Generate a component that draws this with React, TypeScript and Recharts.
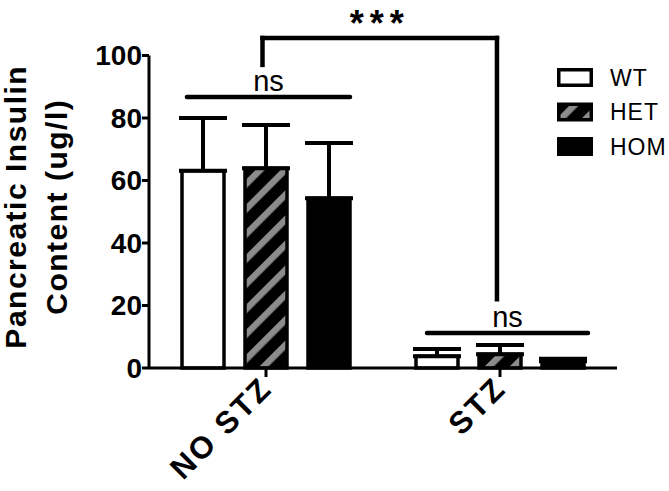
import React from 'react';
import { BarChart, Bar, XAxis, YAxis, ErrorBar, ReferenceLine, Legend } from 'recharts';

const FONT = '"Liberation Sans", Arial, Helvetica, sans-serif';

const categories = ['NO STZ', 'STZ'];
const categoryPos = [0.5, 1.5];
const seriesNames = ['WT', 'HET', 'HOM'];
const wtMeans = [63.1, 3.8];
const wtErrors = [16.9, 2.3];
const hetMeans = [63.9, 4.4];
const hetErrors = [13.9, 3.0];
const homMeans = [54.3, 2.2];
const homErrors = [17.7, 0.8];
const yTicks = [0, 20, 40, 60, 80, 100];

// significance annotations (x on a 0..2 numeric scale spanning both categories)
const nsLineX1 = [0.162, 1.188];
const nsLineX2 = [0.859, 1.876];
const nsLineY = [86.7, 11.2];
const nsLabels = ['ns', 'ns'];
const bracketX = [0.485, 1.487];
const bracketY = [97, 105.6, 22]; // left foot, top, right foot
const bracketLabel = '***';

const data = categories.map((name, i) => ({
  name,
  pos: categoryPos[i],
  wt: wtMeans[i],
  wtErr: [0, wtErrors[i]],
  het: hetMeans[i],
  hetErr: [0, hetErrors[i]],
  hom: homMeans[i],
  homErr: [0, homErrors[i]],
}));

const XTick = (props: any) => {
  const { x, y, payload } = props;
  const ax = x + 8;
  const ay = y + 11;
  return (
    <text
      x={ax}
      y={ay}
      transform={`rotate(-45 ${ax} ${ay})`}
      textAnchor="end"
      fontFamily={FONT}
      fontWeight="bold"
      fontSize={31}
      letterSpacing={2.5}
      fill="#000"
    >
      {payload.value}
    </text>
  );
};

const YLabel = (props: any) => {
  const vb = props.viewBox || { x: 0, y: 55, width: 149, height: 313 };
  const cy = vb.y + vb.height / 2 - 5;
  const x1 = 26;
  const x2 = 67;
  return (
    <g fontFamily={FONT} fontWeight="bold" fontSize={30} fill="#000">
      <text x={x1} y={cy} transform={`rotate(-90 ${x1} ${cy})`} textAnchor="middle" letterSpacing={1.5}>
        Pancreatic Insulin
      </text>
      <text x={x2} y={cy} transform={`rotate(-90 ${x2} ${cy})`} textAnchor="middle" letterSpacing={1.5}>
        Content (ug/l)
      </text>
    </g>
  );
};

const LegendContent = (props: any) => {
  const payload = [...(props.payload || [])].sort(
    (a: any, b: any) => seriesNames.indexOf(a.value) - seriesNames.indexOf(b.value)
  );
  return (
    <svg width={112} height={100} style={{ display: 'block', overflow: 'visible' }}>
      {payload.map((entry: any, i: number) => (
        <g key={entry.value}>
          <rect
            x={1.75}
            y={1.75 + i * 34.5}
            width={32.5}
            height={15.5}
            fill={entry.color}
            stroke="#000"
            strokeWidth={3.5}
          />
          <text x={53} y={17.5 + i * 34.5} fontFamily={FONT} fontSize={23} letterSpacing={1} fill="#000">
            {entry.value}
          </text>
        </g>
      ))}
    </svg>
  );
};

export default function App() {
  return (
    <div style={{ position: 'absolute', left: 0, top: 0, width: 669, height: 491, background: '#fff' }}>
      <BarChart
        width={669}
        height={491}
        data={data}
        margin={{ top: 55.5, right: 52, bottom: 0, left: 0 }}
        barSize={42}
        barGap={21}
      >
        <defs>
          <pattern
            id="hetHatch"
            patternUnits="userSpaceOnUse"
            width={17.7}
            height={17.7}
            patternTransform="rotate(45)"
          >
            <rect x={0} y={0} width={17.7} height={17.7} fill="#000" />
            <rect x={0} y={0} width={6.5} height={17.7} fill="#8c8c8c" />
          </pattern>
        </defs>
        <XAxis
          dataKey="name"
          height={123}
          axisLine={{ stroke: '#000', strokeWidth: 3 }}
          tickLine={{ stroke: '#000', strokeWidth: 3 }}
          tickSize={9}
          tickMargin={2}
          tick={<XTick />}
          interval={0}
        />
        <XAxis
          xAxisId="ann"
          dataKey="pos"
          type="number"
          domain={[0, 2]}
          allowDataOverflow
          hide
        />
        <YAxis
          width={149}
          domain={[0, 100]}
          ticks={yTicks}
          interval={0}
          axisLine={{ stroke: '#000', strokeWidth: 3 }}
          tickLine={{ stroke: '#000', strokeWidth: 3 }}
          tickSize={7}
          tickMargin={0}
          tick={{ fill: '#000', fontSize: 28, fontWeight: 'bold', fontFamily: FONT }}
          label={<YLabel />}
        />
        <Legend
          layout="vertical"
          align="center"
          verticalAlign="middle"
          content={<LegendContent />}
          wrapperStyle={{ left: 557, top: 68, width: 112, height: 100, right: 'auto', bottom: 'auto' }}
        />
        <Bar dataKey="wt" name="WT" fill="#fff" stroke="#000" strokeWidth={3.5} isAnimationActive={false}>
          <ErrorBar dataKey="wtErr" width={24} stroke="#000" strokeWidth={4} direction="y" />
        </Bar>
        <Bar dataKey="het" name="HET" fill="url(#hetHatch)" stroke="#000" strokeWidth={3.5} isAnimationActive={false}>
          <ErrorBar dataKey="hetErr" width={24} stroke="#000" strokeWidth={4} direction="y" />
        </Bar>
        <Bar dataKey="hom" name="HOM" fill="#000" stroke="#000" strokeWidth={3.5} isAnimationActive={false}>
          <ErrorBar dataKey="homErr" width={24} stroke="#000" strokeWidth={4} direction="y" />
        </Bar>
        {nsLineY.map((y, i) => (
          <ReferenceLine
            key={`ns${i}`}
            xAxisId="ann"
            ifOverflow="visible"
            segment={[
              { x: nsLineX1[i], y },
              { x: nsLineX2[i], y },
            ]}
            stroke="#000"
            strokeWidth={4.5}
            strokeLinecap="round"
            label={{ value: nsLabels[i], position: 'top', offset: 6, fill: '#000', fontSize: 29, fontFamily: FONT }}
          />
        ))}
        <ReferenceLine
          xAxisId="ann"
          ifOverflow="visible"
          segment={[
            { x: bracketX[0], y: bracketY[0] },
            { x: bracketX[0], y: bracketY[1] },
          ]}
          stroke="#000"
          strokeWidth={4.5}
          strokeLinecap="square"
        />
        <ReferenceLine
          xAxisId="ann"
          ifOverflow="visible"
          segment={[
            { x: bracketX[0], y: bracketY[1] },
            { x: bracketX[1], y: bracketY[1] },
          ]}
          stroke="#000"
          strokeWidth={4.5}
          strokeLinecap="square"
          label={{
            value: bracketLabel,
            position: 'top',
            offset: 2,
            fill: '#000',
            fontSize: 36,
            fontWeight: 'bold',
            letterSpacing: 6,
            fontFamily: FONT,
          }}
        />
        <ReferenceLine
          xAxisId="ann"
          ifOverflow="visible"
          segment={[
            { x: bracketX[1], y: bracketY[1] },
            { x: bracketX[1], y: bracketY[2] },
          ]}
          stroke="#000"
          strokeWidth={4.5}
          strokeLinecap="square"
        />
      </BarChart>
    </div>
  );
}
